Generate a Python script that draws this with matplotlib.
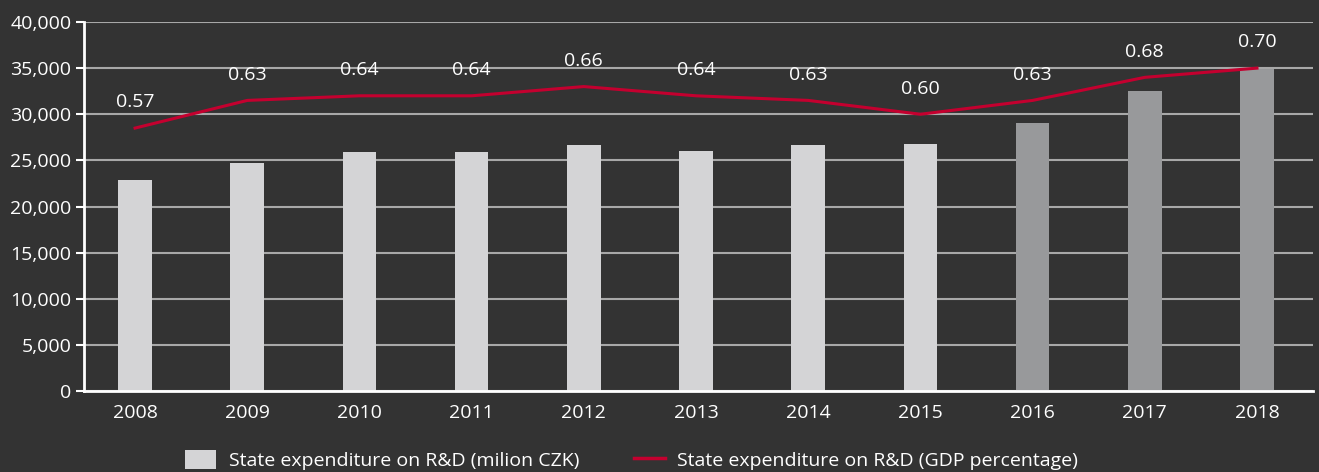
import matplotlib
matplotlib.use("Agg")
import matplotlib.pyplot as plt
from matplotlib.patches import Patch
from matplotlib.lines import Line2D

years = ["2008", "2009", "2010", "2011", "2012", "2013", "2014", "2015", "2016", "2017", "2018"]
expenditure = [22900, 24700, 25900, 25900, 26700, 26000, 26700, 26800, 29050, 32500, 34900]
gdp_pct = [0.57, 0.63, 0.64, 0.64, 0.66, 0.64, 0.63, 0.60, 0.63, 0.68, 0.70]

BG = "#333333"
BAR_LIGHT = "#d4d4d6"
BAR_DARK = "#98999b"
LINE = "#c4002f"

plt.rcParams["font.family"] = ["Open Sans", "DejaVu Sans"]

fig = plt.figure(figsize=(13.19, 4.72), dpi=100, facecolor=BG)
ax = fig.add_axes([0.0637, 0.1716, 0.9318, 0.7818])
ax.set_facecolor(BG)

x = list(range(len(years)))
colors = [BAR_DARK if int(y) >= 2016 else BAR_LIGHT for y in years]
ax.bar(x, expenditure, width=0.3, color=colors, zorder=2)

ax.set_ylim(0, 40000)
ax.set_xlim(-0.455, 10.5)
ax.set_yticks(range(0, 40001, 5000))
ax.set_yticklabels([f"{v:,}" for v in range(0, 40001, 5000)])
ax.yaxis.grid(True, color="#a8a8a8", linewidth=1.5, zorder=0)
ax.set_axisbelow(True)
ax.set_xticks(x)
ax.set_xticklabels(years)
ax.tick_params(axis="y", colors="white", labelsize=14, length=6, width=1.5, pad=3)
ax.tick_params(axis="x", colors="white", labelsize=14, length=0, pad=9)

for side in ["top", "right"]:
    ax.spines[side].set_visible(False)
for side in ["left", "bottom"]:
    ax.spines[side].set_color("white")
    ax.spines[side].set_linewidth(2)

ax2 = ax.twinx()
ax2.set_ylim(0, 0.8)
ax2.axis("off")
ax2.plot(x, gdp_pct, color=LINE, linewidth=2.2, zorder=3)
for xi, v in zip(x, gdp_pct):
    ax2.annotate(f"{v:.2f}", (xi, v), xytext=(0, 12), textcoords="offset points",
                 ha="center", va="bottom", color="white", fontsize=14)

handles = [
    Patch(facecolor=BAR_LIGHT, edgecolor="none"),
    Line2D([0], [0], color=LINE, linewidth=2.5),
]
labels = ["State expenditure on R&D (milion CZK)", "State expenditure on R&D (GDP percentage)"]
leg = fig.legend(handles, labels, loc="center left", bbox_to_anchor=(185 / 1319, 1 - 460 / 472), ncol=2,
                 frameon=False, fontsize=14, borderpad=0, borderaxespad=0,
                 columnspacing=2.8, handlelength=1.6, handleheight=1.1, handletextpad=0.65)
for t in leg.get_texts():
    t.set_color("white")

fig.savefig("out.png", dpi=100, facecolor=BG)
